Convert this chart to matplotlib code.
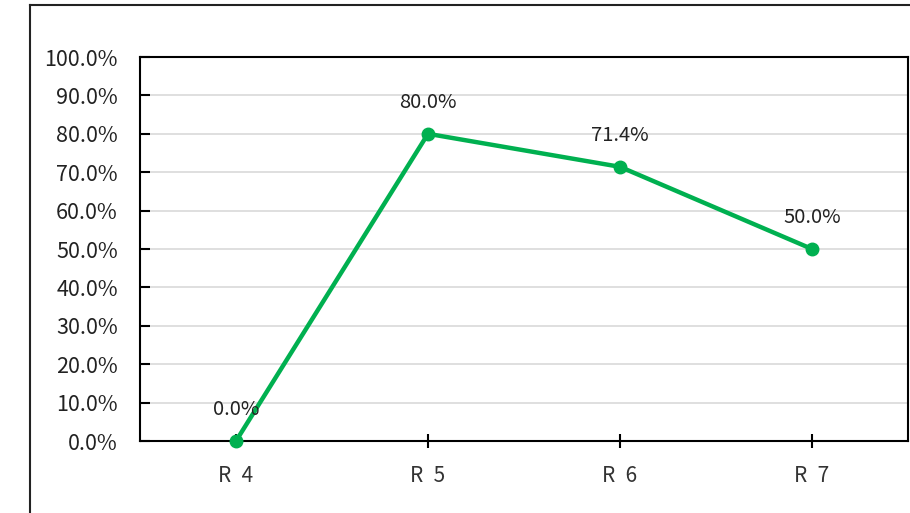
import matplotlib
matplotlib.use("Agg")
import matplotlib.pyplot as plt
from matplotlib.lines import Line2D
from matplotlib.ticker import FuncFormatter, MultipleLocator

plt.rcParams['font.family'] = ['Noto Sans CJK JP', 'DejaVu Sans']

categories = ["R 4", "R 5", "R 6", "R 7"]
values = [0.0, 80.0, 71.4, 50.0]

fig = plt.figure(figsize=(9.10, 5.13), dpi=100)
ax = fig.add_axes([140/910, (513-441)/513, (908-140)/910, (441-57)/513])

x = list(range(len(categories)))
ax.plot(x, values, color="#00B050", linewidth=3.2, marker="o", markersize=9, zorder=3, clip_on=False)
for xi, v in zip(x, values):
    ax.annotate(f"{v:.1f}%", (xi, v), xytext=(0, 15), textcoords="offset points",
                ha="center", va="bottom", fontsize=14.5, color="#222222")

ax.set_xlim(-0.5, 3.5)
ax.set_ylim(0, 100)
ax.yaxis.set_major_locator(MultipleLocator(10))
ax.yaxis.set_major_formatter(FuncFormatter(lambda v, p: f"{v:.1f}%"))
ax.set_xticks(x)
ax.set_xticklabels([c.replace(" ", "\u2002") for c in categories])
ax.grid(axis="y", color="#D9D9D9", linewidth=1.2, zorder=0)
ax.set_axisbelow(True)
for s in ax.spines.values():
    s.set_color("black")
    s.set_linewidth(1.5)
ax.tick_params(axis="y", direction="in", length=7, width=1.5, labelsize=15.5, pad=16, colors="black", labelcolor="#222222")
ax.tick_params(axis="x", direction="inout", length=10, width=1.5, labelsize=15, pad=12, colors="black", labelcolor="#333333")

fig.add_artist(Line2D([30/910, 30/910], [0, 1 - 5/513], transform=fig.transFigure, color="#222222", linewidth=1.5))
fig.add_artist(Line2D([30/910, 1], [1 - 5/513, 1 - 5/513], transform=fig.transFigure, color="#222222", linewidth=1.5))

fig.savefig("out.png", dpi=100)
